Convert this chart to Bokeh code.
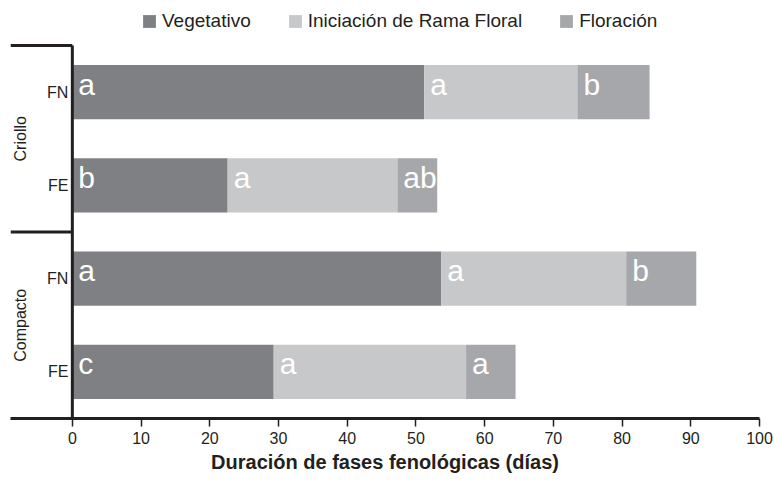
from bokeh.plotting import figure
from bokeh.models import ColumnDataSource, Range1d, FixedTicker, Legend, LegendItem
from bokeh.core.properties import value
from bokeh.embed import file_html
from bokeh.resources import INLINE

# ---- data ----
varieties = ["Criollo", "Criollo", "Compacto", "Compacto"]
treatments = ["FN", "FE", "FN", "FE"]
positions = [3.5, 2.5, 1.5, 0.5]
vegetativo = [51.2, 22.6, 53.7, 29.3]
iniciacion = [22.3, 24.7, 26.9, 28.0]
floracion = [10.5, 5.8, 10.2, 7.2]
letras_veg = ["a", "b", "a", "c"]
letras_ini = ["a", "a", "a", "a"]
letras_flor = ["b", "ab", "b", "a"]
x_ticks = [0, 10, 20, 30, 40, 50, 60, 70, 80, 90, 100]
group_names = ["Criollo", "Compacto"]
group_centers = [3.0, 1.0]
group_edges = [4.0, 2.0]

FONT = "Liberation Sans, Arial, sans-serif"
c_veg = "#7f8083"
c_ini = "#c7c8ca"
c_flor = "#a6a7aa"

veg_end = [v for v in vegetativo]
ini_end = [v + i for v, i in zip(vegetativo, iniciacion)]
flor_end = [e + f for e, f in zip(ini_end, floracion)]

src = ColumnDataSource(dict(
    y=positions, veg0=[0] * 4, veg1=veg_end, ini1=ini_end, flor1=flor_end,
    lv=letras_veg, li=letras_ini, lf=letras_flor, trt=treatments,
))

p = figure(width=774, height=484, output_backend="svg", toolbar_location=None,
           x_range=Range1d(-9, 100), y_range=Range1d(0, 4.397),
           min_border_left=10, min_border_right=15, min_border_top=8,
           min_border_bottom=66, y_axis_location=None)
p.outline_line_color = None
p.xgrid.visible = False
p.ygrid.visible = False

h = 0.58
r1 = p.hbar(y="y", left="veg0", right="veg1", height=h, source=src,
            fill_color=c_veg, line_color=None)
r2 = p.hbar(y="y", left="veg1", right="ini1", height=h, source=src,
            fill_color=c_ini, line_color=None)
r3 = p.hbar(y="y", left="ini1", right="flor1", height=h, source=src,
            fill_color=c_flor, line_color=None)

# letters
for xcol, tcol in [("veg0", "lv"), ("veg1", "li"), ("ini1", "lf")]:
    p.text(x=xcol, y="y", text=tcol, source=src, x_offset=6, y_offset=-8,
           text_color="white", text_font=value(FONT), text_font_size="30px",
           text_baseline="alphabetic", text_align="left")

# treatment labels
p.text(x=[0] * 4, y=positions, text=treatments, x_offset=-4,
       text_font=value(FONT), text_font_size="16px", text_color="#231f20",
       text_align="right", text_baseline="middle")

# group labels
p.text(x=[-7.6] * 2, y=group_centers, text=group_names, angle=1.5708,
       text_font=value(FONT), text_font_size="16px", text_color="#231f20",
       text_align="center", text_baseline="middle")

# y axis line and group separators
p.segment(x0=[0], y0=[0], x1=[0], y1=[4.0], line_color="#231f20", line_width=3)
p.segment(x0=[-9] * 2, y0=group_edges, x1=[0] * 2, y1=group_edges,
          line_color="#231f20", line_width=3)

ax = p.xaxis[0]
ax.ticker = FixedTicker(ticks=x_ticks)
ax.axis_line_color = "#231f20"
ax.axis_line_width = 3
ax.major_tick_in = 0
ax.major_tick_out = 8
ax.major_tick_line_width = 1.5
ax.major_tick_line_color = "#231f20"
ax.minor_tick_line_color = None
ax.major_label_text_font = FONT
ax.major_label_text_font_size = "16px"
ax.major_label_text_color = "#231f20"
ax.major_label_standoff = 5
ax.axis_label = "Duración de fases fenológicas (días)"
ax.axis_label_text_font = FONT
ax.axis_label_text_font_size = "20px"
ax.axis_label_text_font_style = "bold"
ax.axis_label_text_color = "#231f20"
ax.axis_label_standoff = 4

legend = Legend(items=[LegendItem(label="Vegetativo", renderers=[r1]),
                       LegendItem(label="Iniciación de Rama Floral", renderers=[r2]),
                       LegendItem(label="Floración", renderers=[r3])],
                location=(131, 386), orientation="horizontal",
                padding=0, margin=0, spacing=36, label_standoff=5,
                glyph_width=16, glyph_height=16, label_height=18,
                label_text_font=FONT, label_text_font_size="19px",
                label_text_color="#231f20", border_line_color=None,
                background_fill_alpha=0)
p.add_layout(legend, "center")

open("out.html", "w").write(file_html(p, INLINE))
